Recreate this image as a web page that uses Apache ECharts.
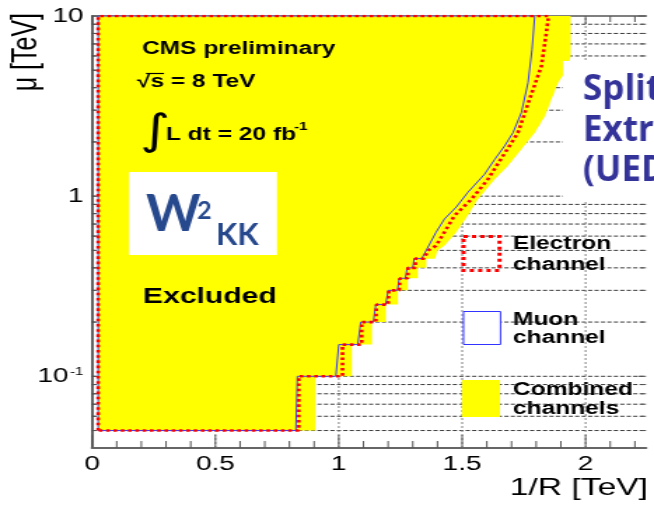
<!DOCTYPE html>
<html><head><meta charset="utf-8">
<script src="https://cdn.jsdelivr.net/npm/echarts@6/dist/echarts.min.js"></script>
<style>
html,body{margin:0;padding:0;background:#fff;overflow:hidden;}
#wrap{width:654px;height:505px;overflow:hidden;position:relative;background:#fff;}
#chart{width:467px;height:505px;transform:scaleX(1.400428);transform-origin:0 0;}
</style></head><body>
<div id="wrap"><div id="chart"></div></div>
<script>
// ---- data ----
const X_MIN = 0, X_MAX = 2.245, Y_MIN = 0.04, Y_MAX = 10;

// Combined channels (yellow) excluded region boundary, 1/R [TeV] and mu [TeV]
const combinedX = [0.025,0.025,1.94,1.94,1.93,1.905,1.889,1.862,1.835,1.794,1.74,1.685,1.632,1.564,1.523,1.476,1.428,1.40,1.39,1.355,1.355,1.32,1.32,1.28,1.28,1.24,1.24,1.19,1.19,1.134,1.134,1.053,1.053,0.905,0.905];
const combinedY = [0.05,10,10,6,5.3,4.6,4.27,3.45,2.78,2.25,1.82,1.47,1.24,0.96,0.78,0.63,0.53,0.5,0.45,0.45,0.4,0.4,0.35,0.35,0.3,0.3,0.25,0.25,0.2,0.2,0.15,0.15,0.1,0.1,0.05];

// Electron channel contour
const electronX = [0.025,0.025,1.85,1.841,1.821,1.773,1.726,1.665,1.604,1.537,1.469,1.394,1.362,1.345,1.31,1.31,1.28,1.28,1.248,1.245,1.203,1.2,1.153,1.15,1.093,1.093,1.015,1.015,0.838,0.838,0.025];
const electronY = [0.05,10,10,8.07,5.27,3.45,2.25,1.67,1.24,0.96,0.78,0.53,0.5,0.45,0.45,0.4,0.4,0.35,0.35,0.3,0.3,0.25,0.25,0.2,0.2,0.15,0.15,0.1,0.1,0.05,0.05];

// Muon channel contour
const muonX = [0.025,0.025,1.794,1.783,1.767,1.74,1.706,1.672,1.632,1.59,1.523,1.476,1.428,1.394,1.357,1.336,1.305,1.30,1.277,1.27,1.245,1.238,1.2,1.19,1.15,1.14,1.089,1.077,1.0,0.988,0.832,0.826,0.025];
const muonY = [0.05,10,10,6.5,4.27,2.91,2.25,1.9,1.6,1.32,1.05,0.87,0.746,0.63,0.508,0.45,0.45,0.4,0.4,0.35,0.35,0.3,0.3,0.25,0.25,0.2,0.2,0.15,0.15,0.1,0.1,0.05,0.05];

// ticks, grid and labels
const xTickValues = [0,0.1,0.2,0.3,0.4,0.5,0.6,0.7,0.8,0.9,1,1.1,1.2,1.3,1.4,1.5,1.6,1.7,1.8,1.9,2,2.1,2.2];
const xMajorTicks = [0,0.5,1,1.5,2];
const xLabelText = ['0','0.5','1','1.5','2'];
const xGridValues = [0.5,1,1.5,2];
const yGridValues = [0.05,0.06,0.07,0.08,0.09,0.1,0.2,0.3,0.4,0.5,0.6,0.7,0.8,0.9,1,2,3,4,5,6,7,8,9];
const yTickValues = [0.05,0.06,0.07,0.08,0.09,0.1,0.2,0.3,0.4,0.5,0.6,0.7,0.8,0.9,1,2,3,4,5,6,7,8,9,10];
const yMajorTicks = [0.1,1,10];
const yLabelText = ['{b|10}{s|-1}','1','10'];

// ---- chart ----
const S = 654 / 467;             // horizontal stretch of the original picture
const R = x => x / S;            // picture px -> chart px (horizontal)
const FONT = '"Liberation Sans", Arial, sans-serif';
const SLIDE = 'Lato, "Open Sans", sans-serif';
const SLIDE2 = '"Open Sans", Lato, sans-serif';
const near = (a, b) => Math.abs(a - b) < 1e-9;

const chart = echarts.init(document.getElementById('chart'), null, {renderer: 'canvas', width: 467, height: 505});

function pairs(xs, ys) { return xs.map((x, i) => [x, ys[i]]); }

const option = {
  animation: false,
  backgroundColor: '#fff',
  grid: {left: R(92), right: R(8), top: 16, bottom: 57, containLabel: false, outerBoundsMode: 'none'},
  xAxis: [
    {type: 'value', min: X_MIN, max: X_MAX, interval: 0.5, position: 'bottom',
     axisLine: {show: true, onZero: false, lineStyle: {color: '#666', width: 2}},
     axisTick: {show: false}, splitLine: {show: false}, minorTick: {show: false},
     axisLabel: {show: true, margin: 6, fontSize: 20, fontFamily: FONT, color: '#000',
       showMaxLabel: false,
       formatter: v => { const i = xMajorTicks.findIndex(a => near(a, v)); return i < 0 ? '' : xLabelText[i]; }}},
    {type: 'value', min: X_MIN, max: X_MAX, position: 'top',
     axisLine: {show: true, onZero: false, lineStyle: {color: '#555', width: 1.5}},
     axisTick: {show: false}, splitLine: {show: false}, axisLabel: {show: false}}
  ],
  yAxis: [
    {type: 'log', logBase: 10, min: Y_MIN, max: Y_MAX, position: 'left',
     axisLine: {show: true, lineStyle: {color: '#666', width: 1.5}},
     axisTick: {show: false}, splitLine: {show: false}, minorTick: {show: false},
     axisLabel: {show: true, margin: 6, fontSize: 20, fontFamily: FONT, color: '#000',
       formatter: v => { const i = yMajorTicks.findIndex(a => Math.abs(a - v) < 1e-6 * a); return i < 0 ? '' : yLabelText[i]; },
       rich: {b: {fontSize: 20, fontFamily: FONT, color: '#000'},
              s: {fontSize: 11, fontFamily: FONT, color: '#000', verticalAlign: 'top', padding: [0, 0, 0, 1]}}}},
    {type: 'log', logBase: 10, min: Y_MIN, max: Y_MAX, position: 'right',
     axisLine: {show: true, lineStyle: {color: '#555', width: 1.5}},
     axisTick: {show: false}, splitLine: {show: false}, axisLabel: {show: false}}
  ],
  series: [
    {name: 'hgrid', type: 'custom', z: 1, silent: true,
     data: yGridValues.map(v => [X_MIN, v]),
     renderItem: (params, api) => {
       const v = api.value(1);
       const a = api.coord([X_MIN, v]), b = api.coord([X_MAX, v]);
       return {type: 'line', shape: {x1: a[0], y1: a[1], x2: b[0], y2: b[1]},
               style: {stroke: '#3a3a3a', lineWidth: 1, lineDash: [3, 1.6]}};
     }},
    {name: 'vgrid', type: 'custom', z: 1, silent: true,
     data: xGridValues.map(v => [v, Y_MIN]),
     renderItem: (params, api) => {
       const v = api.value(0);
       const a = api.coord([v, Y_MIN]), b = api.coord([v, Y_MAX]);
       return {type: 'line', shape: {x1: a[0], y1: a[1], x2: b[0], y2: b[1]},
               style: {stroke: '#808080', lineWidth: 1, lineDash: [2, 2]}};
     }},
    {name: 'yticks', type: 'custom', z: 1, silent: true,
     data: yTickValues.map(v => [X_MIN, v]),
     renderItem: (params, api) => {
       const v = api.value(1);
       const major = yMajorTicks.some(a => Math.abs(a - v) < 1e-6 * a);
       const len = major ? R(8) : R(5);
       const pL = api.coord([X_MIN, v]), pR = api.coord([X_MAX, v]);
       const st = {stroke: '#555', lineWidth: 1};
       return {type: 'group', children: [
         {type: 'line', shape: {x1: pL[0], y1: pL[1], x2: pL[0] + len, y2: pL[1]}, style: st},
         {type: 'line', shape: {x1: pR[0], y1: pR[1], x2: pR[0] - len, y2: pR[1]}, style: st}
       ]};
     }},
    {name: 'xticks', type: 'custom', z: 1, silent: true,
     data: xTickValues.map(v => [v, Y_MIN]),
     renderItem: (params, api) => {
       const v = api.value(0);
       const major = xMajorTicks.some(a => near(a, v));
       const pB = api.coord([v, Y_MIN]), pT = api.coord([v, Y_MAX]);
       const st = {stroke: '#555', lineWidth: 1};
       return {type: 'group', children: [
         {type: 'line', shape: {x1: pB[0], y1: pB[1], x2: pB[0], y2: pB[1] - (major ? 13 : 7)}, style: st},
         {type: 'line', shape: {x1: pT[0], y1: pT[1], x2: pT[0], y2: pT[1] + (major ? 8 : 6)}, style: st}
       ]};
     }},
    {name: 'Combined channels', type: 'custom', z: 2, silent: true,
     data: pairs(combinedX, combinedY),
     renderItem: (params, api) => {
       if (params.dataIndex !== 0) return null;
       const pts = combinedX.map((x, i) => api.coord([x, combinedY[i]]));
       return {type: 'polygon', shape: {points: pts}, style: {fill: '#ffff00'}};
     }},
    {name: 'Muon channel', type: 'line', z: 3, silent: true, showSymbol: false, symbol: 'none',
     data: pairs(muonX, muonY), lineStyle: {color: '#3b3bff', width: 1}},
    {name: 'Electron channel', type: 'line', z: 4, silent: true, showSymbol: false, symbol: 'none',
     data: pairs(electronX, electronY), lineStyle: {color: '#ff0000', width: 2.6, type: 'dotted'}}
  ],
  graphic: []
};

const T = (xReal, y, text, font, extra) => Object.assign({type: 'text', x: R(xReal), y: y, z: 50,
  style: {text: text, font: font, fill: '#000', textVerticalAlign: 'middle', verticalAlign: 'middle'}}, extra || {});

const g = option.graphic;
g.push(T(142, 49.5, 'CMS preliminary', 'bold 17.5px ' + FONT));
g.push(T(137, 82, '√s = 8 TeV', 'bold 17.5px ' + FONT));
g.push({type: 'line', z: 50, shape: {x1: R(146), y1: 73.5, x2: R(164), y2: 73.5}, style: {stroke: '#000', lineWidth: 1.2}});
g.push(T(140, 133, '∫', '42px "DejaVu Sans", sans-serif'));
g.push(T(166, 135, 'L dt = 20 fb', 'bold 17.5px ' + FONT));
g.push(T(294, 127, '-1', 'bold 11px ' + FONT));
g.push(T(143, 297, 'Excluded', 'bold 21.5px ' + FONT));

// legend (part of the original plot)
g.push({type: 'rect', z: 50, shape: {x: R(463.5), y: 236.5, width: R(36), height: 34}, style: {fill: 'none', stroke: '#ff0000', lineWidth: 3, lineDash: [3, 3]}});
g.push({type: 'rect', z: 50, shape: {x: R(463.5), y: 311.5, width: R(37), height: 33}, style: {fill: '#ffffff', stroke: '#3333ff', lineWidth: 1}});
g.push({type: 'rect', z: 50, shape: {x: R(462), y: 380, width: R(38), height: 37}, style: {fill: '#ffff00'}});
const LF = 'bold 17.5px ' + FONT;
g.push(T(513, 244.5, 'Electron', LF));
g.push(T(513, 265, 'channel', LF));
g.push(T(513, 320, 'Muon', LF));
g.push(T(513, 338.5, 'channel', LF));
g.push(T(513, 390, 'Combined', LF));
g.push(T(513, 409.5, 'channels', LF));

// axis titles
g.push({type: 'text', x: R(648), y: 488, z: 50, style: {text: '1/R [TeV]', font: '24px ' + FONT, fill: '#000', align: 'right', textAlign: 'right', verticalAlign: 'middle', textVerticalAlign: 'middle'}});
g.push({type: 'text', x: 19, y: 13, z: 50, rotation: Math.PI / 2, style: {text: 'μ [TeV]', font: '25px ' + FONT, fill: '#000', align: 'right', textAlign: 'right', verticalAlign: 'middle', textVerticalAlign: 'middle'}});

// slide overlays (not stretched)
const BLUE1 = '#26488c', BLUE2 = '#333399';
const U = (x, y, text, font, fill) => ({type: 'text', x: x, y: y, z: 101, style: {text: text, font: font, fill: fill, verticalAlign: 'middle', textVerticalAlign: 'middle'}});
g.push({type: 'group', x: 0, y: 0, scaleX: 1 / S, scaleY: 1, z: 100, children: [
  {type: 'rect', z: 100, shape: {x: 129, y: 172, width: 148, height: 83}, style: {fill: '#ffffff'}},
  U(146, 214.5, 'W', 'bold 52px ' + SLIDE, BLUE1),
  U(197, 211, '2', 'bold 25px ' + SLIDE, BLUE1),
  U(216, 235, 'KK', 'bold 31px ' + SLIDE, BLUE1),
  {type: 'rect', z: 100, shape: {x: 563, y: 61, width: 100, height: 139}, style: {fill: '#ffffff'}},
  U(583, 90.5, 'Split', 'bold 35px ' + SLIDE2, BLUE2),
  U(583, 131, 'Extra', 'bold 35px ' + SLIDE2, BLUE2),
  U(583, 171, '(UED)', 'bold 35px ' + SLIDE2, BLUE2)
]});

chart.setOption(option);
</script>
</body></html>
